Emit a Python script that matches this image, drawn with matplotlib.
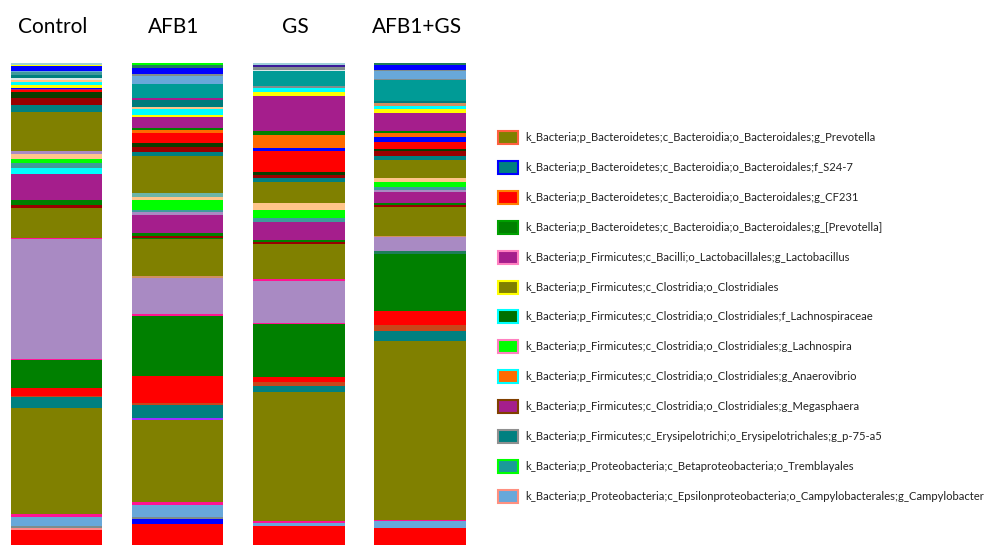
import matplotlib.pyplot as plt
from matplotlib.patches import Rectangle

# sample names
samples = ['Control', 'AFB1', 'GS', 'AFB1+GS']

# colour of each taxon block
pal = {
    'red': '#FF0000', 'salmon': '#FF8A8A', 'grey': '#7F8C8C', 'campy': '#68A8DA',
    'pink': '#FF1493', 'olive': '#808000', 'teal': '#008080', 'brown': '#C8461A',
    'green': '#008000', 'lav': '#A98AC3', 'tan': '#D09060', 'dkred': '#990000',
    'purple': '#A51E8C', 'cyan': '#00FFFF', 'grayteal': '#3E9B9B', 'lime': '#00FF00',
    'peach': '#FFC58A', 'dkgreen': '#0B3D00', 'orange': '#FF6A00', 'blue': '#0000FF',
    'yellow': '#FFFF00', 'pale': '#D8E8E8', 'dkteal': '#007B7B', 'lteal': '#009B96',
    'violet': '#9B30FF', 'tealgreen': '#1E7E5A', 'ltealgrey': '#6DB5A8',
    'indigo': '#3A1A9A', 'sky': '#9ED0D8',
}

# relative abundance (%), bottom -> top
control_taxa = ['red', 'salmon', 'grey', 'campy', 'pink', 'olive', 'teal', 'brown', 'red',
                'green', 'pink', 'lav', 'pink', 'olive', 'dkred', 'green', 'purple', 'cyan',
                'grayteal', 'lime', 'peach', 'lav', 'olive', 'teal', 'dkred', 'dkgreen', 'red',
                'purple', 'blue', 'yellow', 'cyan', 'peach', 'pale', 'teal', 'grayteal',
                'campy', 'blue', 'yellow', 'sky']
control_vals = [3.1, 0.4, 0.4, 1.9, 0.7, 21.8, 2.4, 0.15, 1.7,
                5.7, 0.35, 24.8, 0.3, 6.2, 0.5, 1.2, 5.3, 1.3,
                1.0, 0.9, 1.0, 0.5, 8.1, 1.45, 1.4, 1.4, 0.3,
                0.2, 0.25, 0.55, 0.8, 0.35, 0.35, 0.7, 0.5,
                0.35, 0.9, 0.35, 0.35]

afb1_taxa = ['red', 'blue', 'grey', 'campy', 'pink', 'olive', 'violet', 'teal', 'brown',
             'red', 'green', 'pink', 'lav', 'tan', 'olive', 'green', 'dkred', 'green',
             'purple', 'lav', 'grayteal', 'lime', 'peach', 'ltealgrey', 'olive', 'teal',
             'dkred', 'dkgreen', 'red', 'orange', 'green', 'purple', 'yellow', 'cyan',
             'peach', 'dkteal', 'purple', 'lteal', 'campy', 'grey', 'blue', 'tealgreen',
             'lime']
afb1_vals = [4.4, 1.0, 0.35, 2.55, 0.7, 16.8, 0.5, 2.7, 0.4,
             5.5, 12.6, 0.4, 7.4, 0.35, 7.8, 0.2, 0.3, 0.55,
             3.9, 0.55, 0.5, 1.9, 0.75, 0.75, 7.6, 1.0,
             1.0, 0.7, 2.2, 0.55, 0.35, 2.3, 0.5, 1.25,
             0.4, 1.45, 0.35, 2.9, 1.8, 0.35, 1.2, 0.7,
             0.35]

gs_taxa = ['red', 'campy', 'pink', 'olive', 'teal', 'brown', 'red', 'green', 'pink',
           'lav', 'pink', 'olive', 'dkred', 'green', 'purple', 'grayteal', 'lime', 'peach',
           'olive', 'teal', 'dkred', 'dkgreen', 'red', 'blue', 'orange', 'green', 'purple',
           'yellow', 'cyan', 'grey', 'lteal', 'pale', 'grey', 'indigo', 'sky']
gs_vals = [4.0, 0.6, 0.35, 26.7, 1.4, 0.8, 1.0, 10.9, 0.3,
           8.7, 0.35, 7.3, 0.5, 0.35, 3.7, 0.8, 1.7, 1.4,
           4.3, 0.9, 0.55, 0.7, 4.3, 0.7, 2.6, 1.0, 7.1,
           0.9, 0.8, 0.35, 3.1, 0.35, 0.5, 0.55, 0.35]

combo_taxa = ['red', 'campy', 'pink', 'olive', 'teal', 'brown', 'red', 'green', 'tealgreen',
              'lav', 'tan', 'olive', 'dkred', 'green', 'purple', 'lav', 'grayteal', 'lime',
              'peach', 'olive', 'teal', 'dkred', 'dkgreen', 'red', 'blue', 'orange', 'green',
              'purple', 'yellow', 'cyan', 'tan', 'dkteal', 'lteal', 'grey', 'campy', 'grey',
              'blue', 'tealgreen']
combo_vals = [3.5, 1.4, 0.35, 37.0, 2.1, 1.4, 2.9, 11.8, 0.5,
              2.9, 0.2, 6.2, 0.35, 0.35, 2.4, 0.35, 0.7, 0.9,
              0.95, 3.7, 0.7, 1.2, 0.4, 1.4, 0.95, 0.9, 0.5,
              3.7, 0.7, 0.7, 0.55, 0.6, 4.2, 0.35, 1.5, 0.35,
              0.9, 0.5]

sample_taxa = [control_taxa, afb1_taxa, gs_taxa, combo_taxa]
sample_vals = [control_vals, afb1_vals, gs_vals, combo_vals]

# legend
legend_labels = [
    'k_Bacteria;p_Bacteroidetes;c_Bacteroidia;o_Bacteroidales;g_Prevotella',
    'k_Bacteria;p_Bacteroidetes;c_Bacteroidia;o_Bacteroidales;f_S24-7',
    'k_Bacteria;p_Bacteroidetes;c_Bacteroidia;o_Bacteroidales;g_CF231',
    'k_Bacteria;p_Bacteroidetes;c_Bacteroidia;o_Bacteroidales;g_[Prevotella]',
    'k_Bacteria;p_Firmicutes;c_Bacilli;o_Lactobacillales;g_Lactobacillus',
    'k_Bacteria;p_Firmicutes;c_Clostridia;o_Clostridiales',
    'k_Bacteria;p_Firmicutes;c_Clostridia;o_Clostridiales;f_Lachnospiraceae',
    'k_Bacteria;p_Firmicutes;c_Clostridia;o_Clostridiales;g_Lachnospira',
    'k_Bacteria;p_Firmicutes;c_Clostridia;o_Clostridiales;g_Anaerovibrio',
    'k_Bacteria;p_Firmicutes;c_Clostridia;o_Clostridiales;g_Megasphaera',
    'k_Bacteria;p_Firmicutes;c_Erysipelotrichi;o_Erysipelotrichales;g_p-75-a5',
    'k_Bacteria;p_Proteobacteria;c_Betaproteobacteria;o_Tremblayales',
    'k_Bacteria;p_Proteobacteria;c_Epsilonproteobacteria;o_Campylobacterales;g_Campylobacter',
]
legend_face = ['#808000', '#008080', '#FF0000', '#008000', '#A51E8C', '#808000', '#007000',
               '#00FF00', '#FF6A00', '#A51E8C', '#008080', '#1A9A9A', '#68A8DA']
legend_edge = ['#FF6040', '#0000FF', '#FF8000', '#00A000', '#FF80C0', '#FFFF00', '#00FFFF',
               '#FF80C0', '#00FFFF', '#804000', '#909090', '#00FF00', '#FF9080']

W, H = 991, 545
fig = plt.figure(figsize=(W / 100, H / 100), dpi=100)
ax = fig.add_axes([0, 0, 491 / W, (545 - 63) / H])
ax.set_xlim(-0.464, 3.584)
ax.set_ylim(0, 100)
ax.axis('off')

for i, (taxa, vals) in enumerate(zip(sample_taxa, sample_vals)):
    total = sum(vals)
    bottom = 0
    for t, v in zip(taxa, vals):
        h = v / total * 100
        ax.bar(i, h, bottom=bottom, width=0.754, color=pal[t], linewidth=0)
        bottom += h
    ax.text(i - 0.03, 107.5, samples[i], ha='center', va='center', fontsize=15,
            family='Lato', clip_on=False)

# legend font size fitted so the labels keep inside the figure
leg_font = 'Lato'
fig.canvas.draw()
sizes = []
for lab, target in [(legend_labels[0], 358), (legend_labels[-1], 458)]:
    probe = fig.text(0, 0, lab, fontsize=10, family=leg_font)
    fig.canvas.draw()
    sizes.append(10 * target / probe.get_window_extent().width)
    probe.remove()
leg_size = min(sizes)

# manual legend
for k, lab in enumerate(legend_labels):
    yc = 137.7 + 29.87 * k
    fig.add_artist(Rectangle((498 / W, 1 - (yc + 6.5) / H), 20 / W, 13 / H,
                             transform=fig.transFigure, facecolor=legend_face[k],
                             edgecolor=legend_edge[k], linewidth=1.5))
    fig.text(525 / W, 1 - yc / H, lab, va='center', ha='left', color='#222222',
             fontsize=leg_size, family=leg_font)

fig.savefig('out.png', dpi=100)
